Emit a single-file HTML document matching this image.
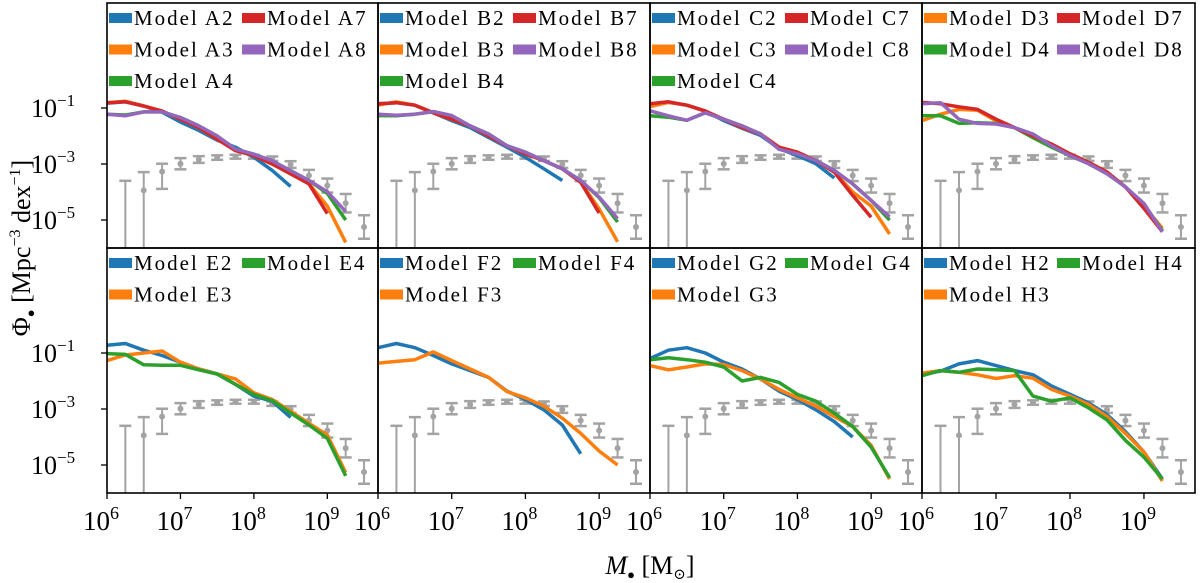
<!DOCTYPE html>
<html><head><meta charset="utf-8"><style>
html,body{margin:0;padding:0;background:#fff;}
svg{display:block;font-family:"Liberation Serif","DejaVu Serif",serif;}
</style></head><body>
<svg id="chart" width="1200" height="583" viewBox="0 0 1200 583"></svg>
<script>
// ---- data ----
const gridLogM = [6.0,6.25,6.5,6.75,7.0,7.25,7.5,7.75,8.0,8.25,8.5,8.75,9.0,9.25];
const obsLogM = [6.25,6.5,6.75,7.0,7.25,7.5,7.75,8.0,8.25,8.5,8.75,9.0,9.25,9.5];
const obsLogPhi = [-6.6,-3.94,-3.27,-2.99,-2.84,-2.77,-2.74,-2.74,-2.81,-3.02,-3.41,-3.77,-4.40,-5.25];
const obsErrUp = [3.0,0.65,0.28,0.2,0.12,0.08,0.07,0.07,0.08,0.12,0.2,0.25,0.33,0.42];
const obsErrDn = [3,3,0.62,0.2,0.12,0.08,0.07,0.07,0.08,0.12,0.2,0.25,0.33,0.42];
const colors = {"2":"#1f77b4","3":"#ff7f0e","4":"#2ca02c","7":"#d62728","8":"#9467bd"};
const N = null;
const panelNames = ["A","B","C","D","E","F","G","H"];
const legendCols = [[["2","3","4"],["7","8"]],[["2","3","4"],["7","8"]],[["2","3","4"],["7","8"]],[["3","4"],["7","8"]],
 [["2","3"],["4"]],[["2","3"],["4"]],[["2","3"],["4"]],[["2","3"],["4"]]];
const seriesA = {
 "2":[-0.83,-0.78,-0.93,-1.15,-1.5,-1.8,-2.15,-2.4,-2.76,-3.23,-3.8,N,N,N],
 "3":[-0.81,-0.76,-0.93,-1.11,-1.4,-1.7,-2.11,-2.52,-2.7,-3.0,-3.35,-3.71,-4.5,-5.8],
 "4":[-1.22,-1.25,-1.14,-1.14,-1.34,-1.64,-2.0,-2.47,-2.65,-2.89,-3.24,-3.59,-4.05,-5.0],
 "7":[-0.81,-0.78,-0.93,-1.11,-1.4,-1.7,-2.11,-2.52,-2.7,-3.0,-3.35,-3.71,-4.77,N],
 "8":[-1.22,-1.28,-1.14,-1.14,-1.34,-1.64,-2.0,-2.47,-2.65,-2.89,-3.24,-3.59,-3.99,-4.7]};
const seriesB = {
 "2":[-0.85,-0.81,-0.9,-1.17,-1.45,-1.7,-2.05,-2.4,-2.76,-3.17,-3.59,N,N,N],
 "3":[-0.9,-0.78,-0.9,-1.17,-1.4,-1.64,-2.0,-2.35,-2.64,-2.88,-3.17,-3.65,-4.6,-5.78],
 "4":[-1.27,-1.28,-1.22,-1.13,-1.27,-1.64,-1.93,-2.35,-2.58,-2.88,-3.17,-3.59,-4.2,-5.07],
 "7":[-0.85,-0.81,-0.9,-1.17,-1.4,-1.64,-2.0,-2.35,-2.64,-2.88,-3.17,-3.65,-4.75,N],
 "8":[-1.22,-1.26,-1.22,-1.13,-1.27,-1.64,-1.93,-2.35,-2.58,-2.88,-3.17,-3.59,-4.18,-4.95]};
const seriesC = {
 "2":[-0.88,-0.8,-0.9,-1.11,-1.45,-1.72,-1.98,-2.45,-2.7,-2.99,-3.5,N,N,N],
 "3":[-0.95,-0.8,-0.9,-1.11,-1.4,-1.7,-1.93,-2.4,-2.58,-2.88,-3.29,-4.0,-4.5,-5.5],
 "4":[-1.28,-1.33,-1.44,-1.17,-1.4,-1.64,-1.93,-2.47,-2.64,-2.88,-3.23,-3.71,-4.3,-5.0],
 "7":[-0.85,-0.78,-0.9,-1.11,-1.4,-1.7,-1.93,-2.4,-2.58,-2.88,-3.29,-4.12,-4.9,N],
 "8":[-1.1,-1.28,-1.44,-1.17,-1.4,-1.64,-1.93,-2.47,-2.64,-2.88,-3.23,-3.71,-4.3,-4.89]};
const seriesD = {
 "3":[-1.45,-1.22,-1.05,-1.08,-1.46,-1.7,-2.0,-2.29,-2.64,-2.94,-3.29,-3.82,-4.5,-5.3],
 "4":[-1.27,-1.28,-1.55,-1.53,-1.55,-1.7,-2.06,-2.4,-2.7,-2.99,-3.32,-3.82,-4.45,-5.38],
 "7":[-0.8,-0.85,-0.96,-1.05,-1.4,-1.7,-2.0,-2.29,-2.64,-2.94,-3.29,-3.82,-4.59,-5.42],
 "8":[-0.85,-0.81,-1.4,-1.55,-1.57,-1.7,-1.93,-2.35,-2.7,-2.99,-3.35,-3.82,-4.41,-5.42]};
const seriesE = {
 "2":[-0.72,-0.66,-0.9,-1.09,-1.33,-1.57,-1.75,-2.12,-2.54,-2.72,-3.3,N,N,N],
 "3":[-1.27,-1.07,-1.0,-0.93,-1.33,-1.57,-1.75,-1.93,-2.42,-2.66,-3.08,-3.51,-3.93,-5.27],
 "4":[-1.02,-1.05,-1.42,-1.44,-1.44,-1.6,-1.75,-2.12,-2.48,-2.7,-3.14,-3.57,-4.05,-5.39]};
const seriesF = {
 "2":[-0.81,-0.66,-0.81,-1.09,-1.39,-1.63,-1.87,-2.36,-2.66,-3.03,-3.57,-4.6,N,N],
 "3":[-1.36,-1.3,-1.24,-0.96,-1.27,-1.57,-1.87,-2.38,-2.6,-2.9,-3.33,-3.87,-4.5,-5.0]};
const seriesG = {
 "2":[-1.2,-0.9,-0.81,-1.0,-1.33,-1.57,-1.93,-2.36,-2.66,-3.03,-3.45,-4.0,N,N],
 "3":[-1.45,-1.6,-1.5,-1.39,-1.41,-1.63,-1.93,-2.3,-2.6,-2.9,-3.27,-3.63,-4.3,-5.5],
 "4":[-1.24,-1.17,-1.24,-1.33,-1.5,-2.0,-1.87,-2.05,-2.48,-2.72,-3.15,-3.63,-4.36,-5.45]};
const seriesH = {
 "2":[-1.75,-1.65,-1.39,-1.27,-1.45,-1.63,-1.78,-2.18,-2.48,-2.78,-3.2,-3.81,-4.54,-5.5],
 "3":[-1.72,-1.63,-1.69,-1.78,-1.91,-1.81,-1.9,-2.3,-2.54,-2.84,-3.27,-3.87,-4.54,-5.57],
 "4":[-1.81,-1.63,-1.69,-1.57,-1.6,-1.63,-2.54,-2.72,-2.6,-2.96,-3.39,-4.12,-4.72,-5.5]};
const allSeries = [seriesA,seriesB,seriesC,seriesD,seriesE,seriesF,seriesG,seriesH];
const xTickExps = [6,7,8,9];
const yTickExps = [-1,-3,-5];

// ---- layout ----
const NS="http://www.w3.org/2000/svg";
const svg=document.getElementById('chart');
const colX=[107,378,650,922], colW=[271,272,272,273];
const rowY=[3,248], rowH=245;
const xMin=6, xMax=9.69, yMin=-6.0, yMax=2.75;
function mk(tag,attrs,parent){const e=document.createElementNS(NS,tag);for(const k in attrs)e.setAttribute(k,attrs[k]);(parent||svg).appendChild(e);return e;}

for(let p=0;p<8;p++){
  const c=p%4, r=Math.floor(p/4);
  const x0=colX[c], w=colW[c], y0=rowY[r];
  const xs=v=>x0+(v-xMin)/(xMax-xMin)*w;
  const ys=v=>y0+(yMax-v)/(yMax-yMin)*rowH;
  const g=mk('g',{});
  
  
  const cp=mk('clipPath',{id:'cp'+p},g);
  mk('rect',{x:x0,y:y0,width:w,height:rowH},cp);
  const plot=mk('g',{'clip-path':'url(#cp'+p+')'},g);
  const og=mk('g',{},plot);
  
  
  for(let i=0;i<obsLogM.length;i++){
    const x=xs(obsLogM[i]), yc=ys(obsLogPhi[i]), yu=ys(obsLogPhi[i]+obsErrUp[i]), yd=ys(obsLogPhi[i]-obsErrDn[i]);
    const eb=mk('g',{},og);
    
    
    mk('line',{x1:x,x2:x,y1:yu,y2:yd,stroke:'#a3a3a3','stroke-width':2},eb);
    mk('line',{x1:x-6,x2:x+6,y1:yu,y2:yu,stroke:'#a3a3a3','stroke-width':2.5},eb);
    mk('line',{x1:x-6,x2:x+6,y1:yd,y2:yd,stroke:'#a3a3a3','stroke-width':2.5},eb);
    mk('circle',{cx:x,cy:yc,r:3,fill:'#a3a3a3'},eb);
  }
  const S=allSeries[p];
  for(const key of Object.keys(S)){
    const vals=S[key]; let d='';
    for(let i=0;i<gridLogM.length;i++){ if(vals[i]===null)continue; d+=(d?'L':'M')+xs(gridLogM[i]).toFixed(1)+','+ys(vals[i]).toFixed(1);}
    const path=mk('path',{d:d,fill:'none',stroke:colors[key],'stroke-width':3.5,'stroke-linejoin':'round'},plot);
    
    
  }
  mk('rect',{x:x0,y:y0,width:w,height:rowH,fill:'none',stroke:'#000','stroke-width':1.6},g);
  const lg=mk('g',{},g);
  
  
  const cols=legendCols[p];
  for(let ci=0;ci<cols.length;ci++){
    for(let ri=0;ri<cols[ci].length;ri++){
      const key=cols[ci][ri];
      const lx=x0+2+ci*133, ly=y0+15+ri*31.5;
      const ent=mk('g',{},lg);
      
      
      mk('rect',{x:lx,y:ly-5,width:23,height:10,fill:colors[key]},ent);
      const t=mk('text',{x:lx+25,y:ly+7,'font-size':21,'letter-spacing':2,fill:'#000'},ent);
      t.textContent='Model '+panelNames[p]+key;
    }
  }
  if(r===1){
    for(const e of xTickExps){
      const x=xs(e);
      mk('line',{x1:x,x2:x,y1:y0+rowH,y2:y0+rowH+6,stroke:'#000','stroke-width':1.3},g);
      const t=mk('text',{x:x-6,y:530,'font-size':27,'text-anchor':'middle',fill:'#000'},g);
      
      
      t.textContent='10';
      const s=mk('tspan',{dy:-11,'font-size':18},t); s.textContent=String(e);
    }
  }
  if(c===0){
    for(const e of yTickExps){
      const y=ys(e);
      mk('line',{x1:x0-6,x2:x0,y1:y,y2:y,stroke:'#000','stroke-width':1.3},g);
      const t=mk('text',{x:31,y:y+9,'font-size':26,fill:'#000'},g);
      
      
      t.textContent='10';
      const s=mk('tspan',{dy:-11,'font-size':17},t); s.textContent='\u2212'+Math.abs(e);
    }
  }
}
const xt=mk('text',{x:650,y:574,'font-size':26,'text-anchor':'middle',fill:'#000'});


xt.innerHTML='<tspan font-style="italic">M</tspan><tspan font-size="13" dy="5">\u25CF</tspan><tspan dy="-5"> [M</tspan><tspan font-size="15" dy="5">\u2299</tspan><tspan dy="-5">]</tspan>';
const yt=mk('text',{x:0,y:0,'font-size':26,'text-anchor':'middle',fill:'#000',transform:'translate(30,248) rotate(-90)'});


yt.innerHTML='\u03A6<tspan font-size="13" dy="5">\u25CF</tspan><tspan dy="-5"> [Mpc</tspan><tspan font-size="16" dy="-10">\u22123</tspan><tspan dy="10"> dex</tspan><tspan font-size="16" dy="-10">\u22121</tspan><tspan dy="10">]</tspan>';
</script>
</body></html>
